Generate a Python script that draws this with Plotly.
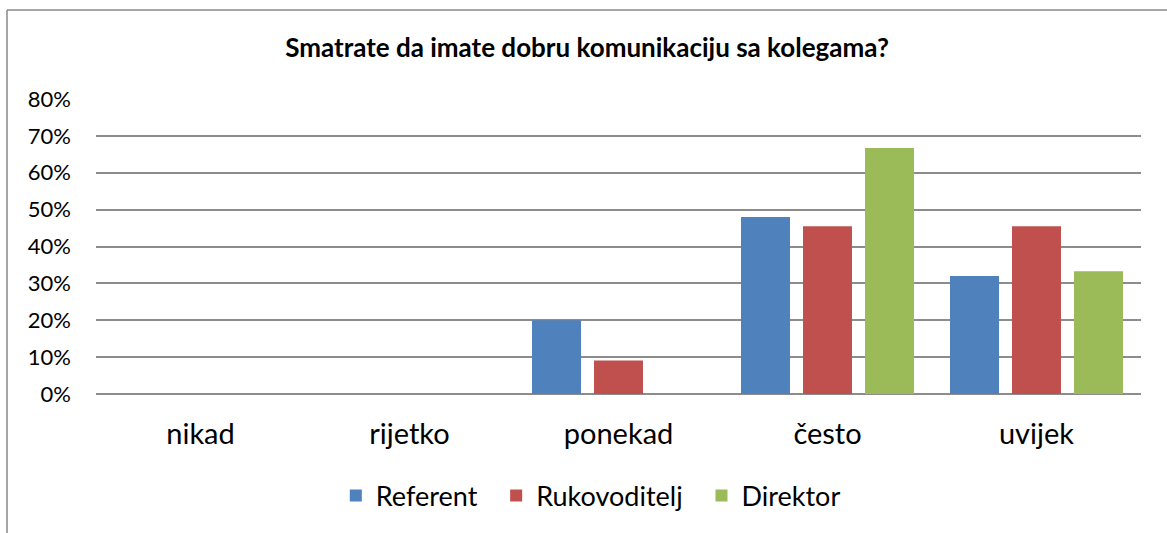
import plotly.graph_objects as go

categories = ["nikad", "rijetko", "ponekad", "često", "uvijek"]
referent = [0, 0, 20, 48, 32]
rukovoditelj = [0, 0, 9.1, 45.5, 45.5]
direktor = [0, 0, 0, 66.7, 33.3]
series_names = ["Referent", "Rukovoditelj", "Direktor"]
colors = ["#4F81BD", "#C0504D", "#9BBB59"]
y_ticks = [0, 10, 20, 30, 40, 50, 60, 70, 80]
y_labels = [f"{v}%" for v in y_ticks]
title = "Smatrate da imate dobru komunikaciju sa kolegama?"

FONT = "Lato"
W, H = 1167, 533
ml, mr, mt, mb = 96, 26, 99, 139

fig = go.Figure()
pads = ["\u00a0\u00a0", "\u00a0\u00a0", ""]
for name, vals, c, p in zip(series_names, [referent, rukovoditelj, direktor], colors, pads):
    fig.add_trace(go.Bar(x=categories, y=vals, name=name + p, marker_color=c,
                         marker_line_width=0))

pw = W - ml - mr
ph = H - mt - mb
# border (top + left lines)
x_left = (7 - ml) / pw
y_top = 1 + (mt - 10) / ph
fig.add_shape(type="line", xref="paper", yref="paper", x0=x_left, x1=1 + mr / pw + 0.01,
              y0=y_top, y1=y_top, line=dict(color="#888888", width=1.5))
fig.add_shape(type="line", xref="paper", yref="paper", x0=x_left, x1=x_left,
              y0=y_top, y1=-mb / ph - 0.01, line=dict(color="#888888", width=1.5))

fig.update_layout(
    width=W, height=H,
    margin=dict(l=ml, r=mr, t=mt, b=mb),
    paper_bgcolor="white", plot_bgcolor="white",
    barmode="group", bargap=0.11, bargroupgap=0.21,
    title=dict(text="<b>" + title + "</b>", x=0.503, xanchor="center",
               y=1 - 48 / H, yanchor="middle",
               font=dict(family=FONT, size=26, color="#000000")),
    font=dict(family=FONT, color="#000000"),
    legend=dict(orientation="h", x=0.4735, xanchor="center", y=-(496 - (H - mb)) / ph,
                yanchor="middle", font=dict(family=FONT, size=27, color="#000000"),
                itemwidth=30, traceorder="normal"),
    xaxis=dict(showgrid=False, showline=False, ticks="",
               tickfont=dict(family=FONT, size=29, color="#000000"),
               ticklabelstandoff=20),
    yaxis=dict(range=[0, 80], tickvals=y_ticks, ticktext=y_labels,
               showgrid=True, gridcolor="#8C8C8C", gridwidth=1.5,
               zeroline=True, zerolinecolor="#8C8C8C", zerolinewidth=1.5,
               showline=False, ticks="",
               tickfont=dict(family=FONT, size=22, color="#000000"),
               ticklabelstandoff=24),
)

fig.write_html("out.html", config={"displayModeBar": False},
               post_script="document.body.style.margin='0';")
